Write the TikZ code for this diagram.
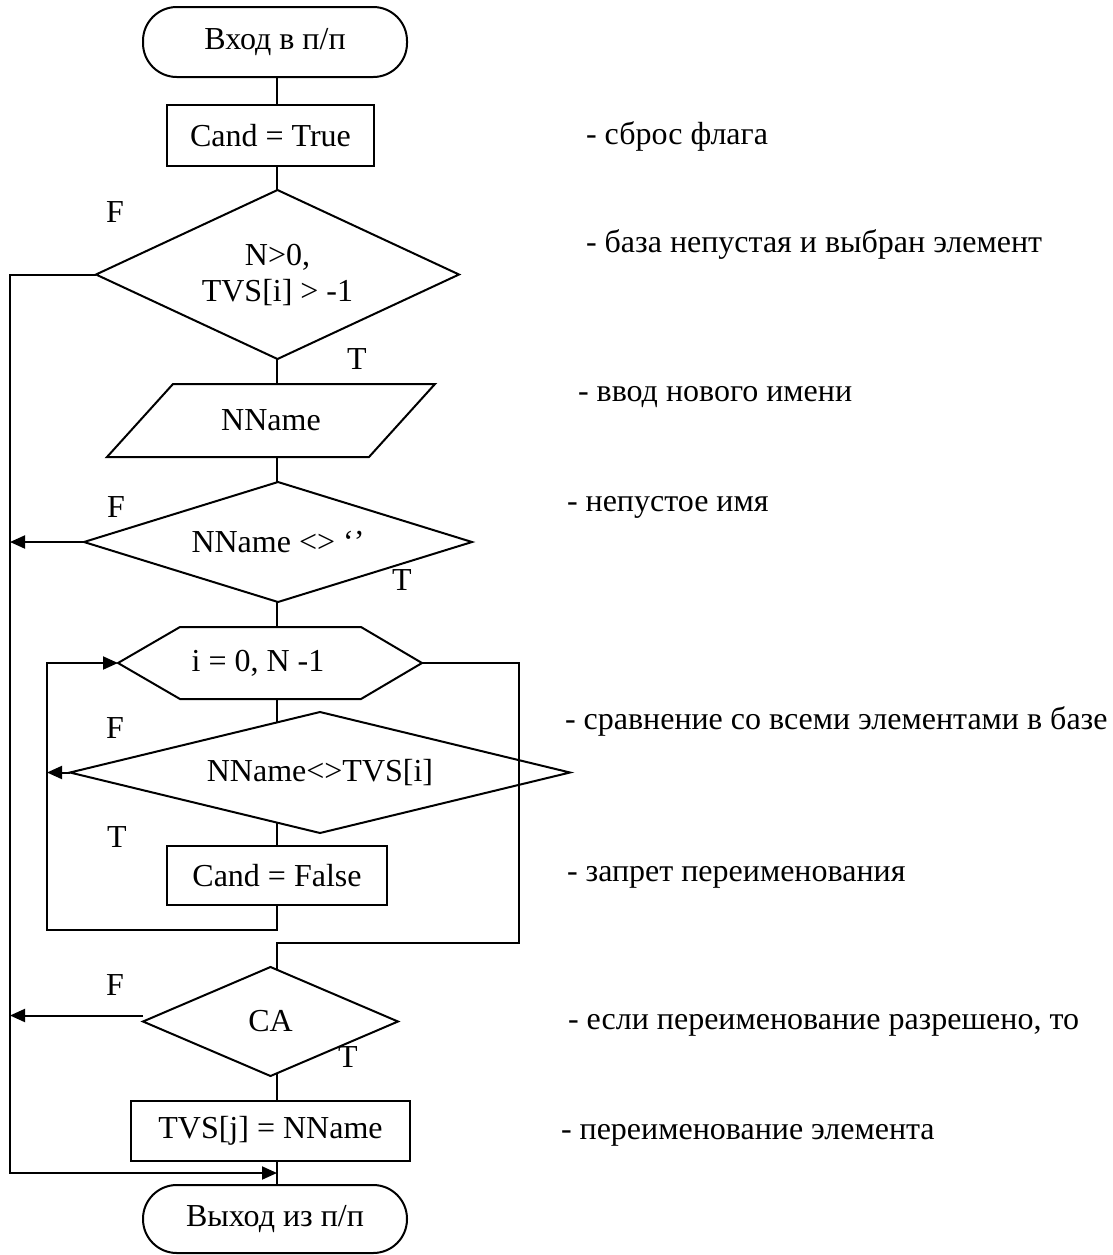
\documentclass[tikz,border=0pt]{standalone}
\usepackage{fontspec}
\setmainfont{Liberation Serif}
\usetikzlibrary{shapes.geometric,arrows.meta}

\tikzset{
  every node/.style={font=\fontsize{16}{18}\selectfont, inner sep=0pt, outer sep=0pt},
  line/.style={line width=1pt},
  arr/.style={line width=1pt, -{Triangle[length=7.5pt,width=6.5pt]}},
  term/.style={draw, line width=1pt, rounded corners=16.9pt, minimum width=132pt},
  proc/.style={draw, line width=1pt},
  dec/.style={draw, diamond, line width=1pt, align=center},
  note/.style={anchor=west, text height=0.68em, text depth=0.22em},
}

\begin{document}
\begin{tikzpicture}[x=0.5pt, y=-0.5pt]
  \fill[white] (0,0) rectangle (1113,1255);
  \useasboundingbox (0,0) rectangle (1113,1255);

  % helper coordinates for the main axis and the return lines
  \coordinate (ax) at (277,0);
  \coordinate (ll) at (10,1173);
  \coordinate (lp) at (47,930);
  \coordinate (rl) at (519,943);

  % blocks
  \node[term, minimum height=35pt] (start) at (275,42) {Вход в п/п};
  \node[proc, minimum width=103.5pt, minimum height=30.5pt] (set1) at (270.5,135.5) {Cand = True};
  \node[dec, minimum width=181.5pt, minimum height=84.5pt, shape aspect=2.15] (d1) at (277.5,274.5) {N>0,\\TVS[i] > -1};

  \node[minimum width=164pt, minimum height=36.5pt] (inp) at (271,420.5) {NName};
  \draw[line] (inp.south west) -- ([xshift=33pt]inp.north west) -- (inp.north east)
    -- ([xshift=-33pt]inp.south east) -- cycle;

  \node[dec, minimum width=194pt, minimum height=60pt, shape aspect=3.2] (d2) at (278,542) {NName <> ‘’};

  \node[minimum width=152pt, minimum height=36pt] (loop) at (270,663) {i = 0, N -1\hspace*{12pt}};
  \draw[line] (loop.west) -- ([xshift=31pt]loop.north west) -- ([xshift=-30.5pt]loop.north east)
    -- (loop.east) -- ([xshift=-30.5pt]loop.south east) -- ([xshift=31pt]loop.south west) -- cycle;

  \node[dec, minimum width=250pt, minimum height=60.5pt, shape aspect=4.1] (d3) at (320,772.5) {NName<>TVS[i]};
  \node[proc, minimum width=110pt, minimum height=29.5pt] (set2) at (277,875.5) {Cand = False};
  \node[dec, minimum width=127.5pt, minimum height=54.5pt, shape aspect=2.3] (d4) at (270.5,1021.5) {CA};
  \node[proc, minimum width=139.5pt, minimum height=30pt] (set3) at (270.5,1131) {TVS[j] = NName};
  \node[term, minimum height=34pt] (stop) at (275,1219) {Выход из п/п};

  % main flow
  \draw[line] (start.south -| ax) -- (set1.north -| ax);
  \draw[line] (set1.south -| ax) -- (d1.north -| ax);
  \draw[line] (d1.south -| ax) -- (inp.north -| ax);
  \draw[line] (inp.south -| ax) -- (d2.north -| ax);
  \draw[line] (d2.south -| ax) -- (loop.north -| ax);
  \draw[line] (loop.south -| ax) -- (ax |- d3.131);
  \draw[line] (ax |- d3.229) -- (set2.north);
  \draw[arr] (set2.south) |- (lp) |- (loop.west);
  \draw[arr] (d3.west) -- (d3.west -| lp);
  \draw[line] (loop.east) -| (rl) -| (ax |- d4.83);
  \draw[line] (ax |- d4.277) -- (set3.north -| ax);
  \draw[line] (set3.south -| ax) -- (stop.north -| ax);

  % exits to the end of the subroutine
  \draw[arr] (d1.west) -| (ll) -- (ll -| ax);
  \draw[arr] (d2.west) -- (d2.west -| ll);
  \draw[arr] ([yshift=3pt]d4.west) -- ([yshift=3pt]d4.west -| ll);

  % branch labels
  \node (f1) at (115,212) {F};
  \node (t1) at (357,359) {T};
  \node (f2) at (116,507) {F};
  \node (t2) at (402,580) {T};
  \node (f3) at (115,728) {F};
  \node (t3) at (117,837) {T};
  \node (f4) at (115,985) {F};
  \node (t4) at (348,1057) {T};

  % comments
  \node[note] (n1) at (586,140) {- сброс флага};
  \node[note] (n2) at (586,248) {- база непустая и выбран элемент};
  \node[note] (n3) at (578,397) {- ввод нового имени};
  \node[note] (n4) at (567,507) {- непустое имя};
  \node[note] (n5) at (565,725) {- сравнение со всеми элементами в базе};
  \node[note] (n6) at (567,877) {- запрет переименования};
  \node[note] (n7) at (568,1025) {- если переименование разрешено, то};
  \node[note] (n8) at (561,1135) {- переименование элемента};
\end{tikzpicture}
\end{document}
